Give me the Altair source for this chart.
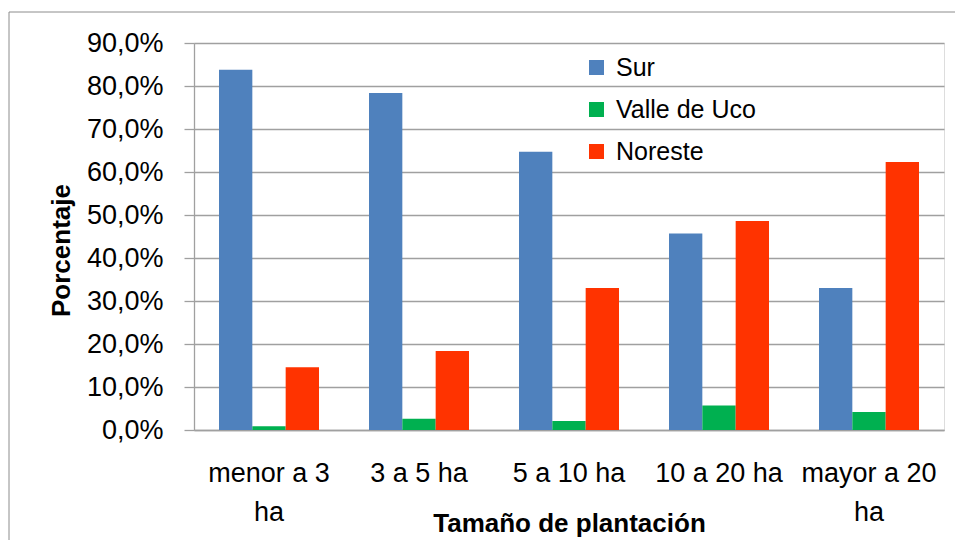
import altair as alt
import pandas as pd
import json

categories = ["menor a 3 ha", "3 a 5 ha", "5 a 10 ha", "10 a 20 ha", "mayor a 20 ha"]
category_lines = [["menor a 3", "ha"], ["3 a 5 ha"], ["5 a 10 ha"], ["10 a 20 ha"], ["mayor a 20", "ha"]]
series = ["Sur", "Valle de Uco", "Noreste"]
colors = ["#4F81BD", "#00B050", "#FF3300"]
sur = [0.838, 0.784, 0.647, 0.457, 0.330]
valle = [0.009, 0.026, 0.021, 0.057, 0.042]
noreste = [0.146, 0.184, 0.330, 0.486, 0.623]
y_ticks = [0.0, 0.1, 0.2, 0.3, 0.4, 0.5, 0.6, 0.7, 0.8, 0.9]

rows = []
for s, vals in zip(series, [sur, valle, noreste]):
    for c, v in zip(categories, vals):
        rows.append({"cat": c, "serie": s, "val": v})
df = pd.DataFrame(rows)

expr = "datum.value"
for c, lines in zip(categories, category_lines):
    if len(lines) > 1:
        expr = f"datum.value == {json.dumps(c)} ? {json.dumps(lines)} : ({expr})"

FONT = "Liberation Sans"
GRID = "#a0a0a0"

bars = alt.Chart(df).mark_bar().encode(
    x=alt.X("cat:N", sort=categories,
            scale=alt.Scale(paddingInner=1/3, paddingOuter=1/6),
            axis=alt.Axis(title="Tamaño de plantación", labelExpr=expr,
                          labelFontSize=27, labelFont=FONT, labelColor="#000",
                          labelAngle=0, labelBaseline="top", labelPadding=30,
                          labelLineHeight=39, ticks=False, tickSize=0,
                          labelOverlap=False, labelLimit=0,
                          domainColor=GRID, domainWidth=1.3,
                          titleFont=FONT, titleFontSize=26, titleFontWeight="bold",
                          titleColor="#000", titleY=101, titleBaseline="alphabetic",
                          grid=False)),
    xOffset=alt.XOffset("serie:N", sort=series,
                        scale=alt.Scale(paddingInner=0, paddingOuter=0)),
    y=alt.Y("val:Q", scale=alt.Scale(domain=[0, 0.9], nice=False),
            axis=alt.Axis(title="Porcentaje", values=y_ticks,
                          labelExpr="replace(format(datum.value, '.1%'), '.', ',')",
                          labelFontSize=27, labelFont=FONT, labelColor="#000",
                          labelPadding=21, tickSize=10, tickColor=GRID, tickWidth=1.3,
                          domainColor=GRID, domainWidth=1.3,
                          gridColor=GRID, gridWidth=1.3,
                          titleFont=FONT, titleFontSize=26, titleFontWeight="bold",
                          titleColor="#000", titleX=-125, titleY=207,
                          titleAngle=270, titleBaseline="alphabetic", titleAlign="center")),
    color=alt.Color("serie:N", sort=series,
                    scale=alt.Scale(domain=series, range=colors),
                    legend=alt.Legend(title=None, orient="none", legendX=390, legendY=12,
                                      symbolType="square", symbolSize=225,
                                      symbolStrokeWidth=0, labelFontSize=25,
                                      labelFont=FONT, labelColor="#000",
                                      labelOffset=7, rowPadding=16, padding=0)),
)

frame = alt.Chart(alt.Data(values=[{"a": 1}])).mark_rect(
    fill=None, stroke="#8c8c8c", strokeWidth=1
).encode(
    x=alt.value(-185), x2=alt.value(800), y=alt.value(-31), y2=alt.value(600)
)

chart = alt.layer(frame, bars).properties(
    width=750, height=387,
    autosize=alt.AutoSizeParams(type="none"),
    padding={"left": 186, "top": 35, "right": 11, "bottom": 110},
).configure_view(stroke=None).configure(background="white")

chart.save("out.html", embed_options={"renderer": "svg", "actions": False})
